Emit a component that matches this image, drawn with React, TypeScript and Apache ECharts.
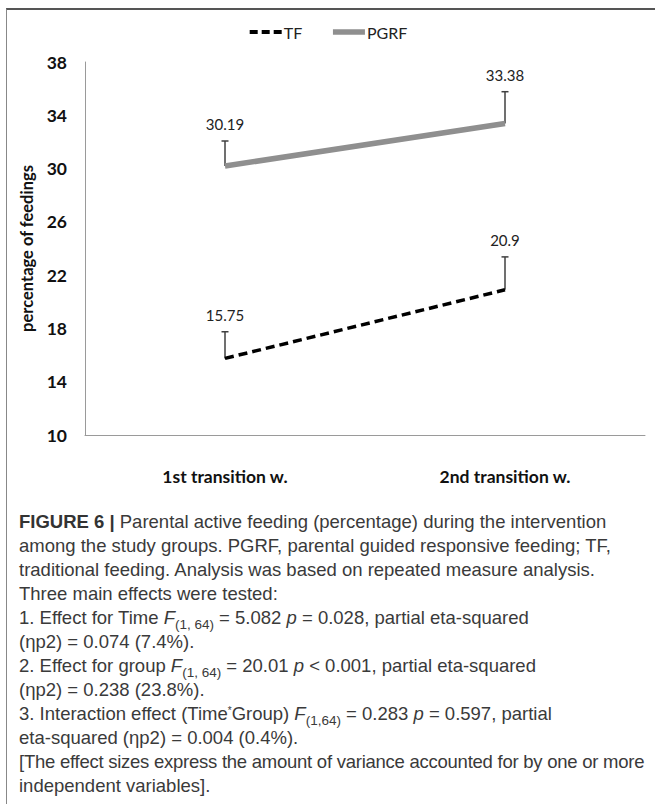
import React, { useEffect, useRef } from "react";
import * as echarts from "echarts";

const categories = ["1st transition w.", "2nd transition w."];
const tfValues = [15.75, 20.9];
const pgrfValues = [30.19, 33.38];
const tfErrors = [2.0, 2.47];
const pgrfErrors = [1.88, 2.39];
const yMin = 10;
const yMax = 38;
const yInterval = 4;

const CHART_FONT = "Lato, 'Open Sans', 'DejaVu Sans', sans-serif";
const CAPTION_FONT = "'Liberation Sans', Arial, Helvetica, sans-serif";

export default function App() {
  const ref = useRef<HTMLDivElement>(null);

  useEffect(() => {
    document.body.style.margin = "0";
    if (!ref.current) return;
    const chart = echarts.init(ref.current, undefined, { renderer: "svg" });

    const errData: any[] = [];
    tfValues.forEach((v, i) => errData.push([i, v, tfErrors[i], String(v)]));
    pgrfValues.forEach((v, i) => errData.push([i, v, pgrfErrors[i], String(v)]));

    chart.setOption({
      animation: false,
      backgroundColor: "transparent",
      textStyle: { fontFamily: CHART_FONT },
      legend: {
        top: 19,
        left: "center",
        itemWidth: 32,
        itemHeight: 10,
        itemGap: 28,
        itemStyle: { opacity: 0 },
        textStyle: { fontFamily: CHART_FONT, fontSize: 16, color: "#222", padding: [0, 0, 0, -3] },
        data: [
          { name: "TF", lineStyle: { width: 4, type: [8, 4], color: "#000" } },
          { name: "PGRF", lineStyle: { width: 5.5, color: "#8f8f8f" } },
        ],
      },
      grid: { left: 85, top: 62, width: 560, height: 373, containLabel: false },
      xAxis: {
        type: "category",
        data: categories,
        boundaryGap: true,
        axisLine: { lineStyle: { color: "#9a9a9a", width: 1 } },
        axisTick: { show: false },
        axisLabel: {
          margin: 32,
          fontSize: 17.5,
          fontWeight: "bold",
          color: "#111",
          fontFamily: CHART_FONT,
        },
        splitLine: { show: false },
      },
      yAxis: {
        type: "value",
        min: yMin,
        max: yMax,
        interval: yInterval,
        name: "percentage of feedings",
        nameLocation: "middle",
        nameGap: 45,
        nameRotate: 90,
        nameTextStyle: { fontSize: 16.5, fontWeight: "bold", color: "#111", fontFamily: CHART_FONT },
        axisLine: { show: true, lineStyle: { color: "#9a9a9a", width: 1 } },
        axisTick: { show: false },
        axisLabel: { margin: 18, fontSize: 17.5, fontWeight: "bold", color: "#111", fontFamily: CHART_FONT },
        splitLine: { show: false },
      },
      series: [
        {
          name: "TF",
          type: "line",
          data: tfValues,
          symbol: "none",
          lineStyle: { color: "#000", width: 3.5, type: [9, 5] },
          itemStyle: { color: "#000" },
          z: 3,
        },
        {
          name: "PGRF",
          type: "line",
          data: pgrfValues,
          symbol: "none",
          lineStyle: { color: "#8f8f8f", width: 5.5 },
          itemStyle: { color: "#8f8f8f" },
          z: 3,
        },
        {
          name: "errors",
          type: "custom",
          data: errData,
          z: 2,
          renderItem: (params: any, api: any) => {
            const x = api.value(0);
            const v = api.value(1);
            const e = api.value(2);
            const p = api.coord([x, v]);
            const t = api.coord([x, v + e]);
            const label = errData[params.dataIndex][3];
            return {
              type: "group",
              children: [
                {
                  type: "line",
                  shape: { x1: p[0], y1: p[1], x2: t[0], y2: t[1] },
                  style: { stroke: "#404040", lineWidth: 1.5 },
                },
                {
                  type: "line",
                  shape: { x1: t[0] - 3.5, y1: t[1], x2: t[0] + 3.5, y2: t[1] },
                  style: { stroke: "#404040", lineWidth: 1.5 },
                },
                {
                  type: "text",
                  style: {
                    text: label,
                    x: t[0],
                    y: t[1] - 9,
                    align: "center",
                    verticalAlign: "bottom",
                    fontSize: 15,
                    fontFamily: CHART_FONT,
                    fill: "#222",
                  },
                },
              ],
            };
          },
        },
      ],
    });

    return () => chart.dispose();
  }, []);

  const lineStyle: React.CSSProperties = { whiteSpace: "nowrap", height: 24 };
  const sub: React.CSSProperties = { fontSize: 13.5, verticalAlign: -5, lineHeight: 0 };

  return (
    <div style={{ position: "relative", width: 655, height: 804, background: "#fff", overflow: "hidden" }}>
      <div
        style={{
          position: "absolute",
          left: 6,
          top: 8,
          right: -4,
          bottom: -4,
          borderTop: "2px solid #555",
          borderLeft: "1.5px solid #888",
        }}
      />
      <div ref={ref} style={{ position: "absolute", left: 0, top: 0, width: 655, height: 505 }} />
      <div
        style={{
          position: "absolute",
          left: 19,
          top: 510,
          fontFamily: CAPTION_FONT,
          fontSize: 18.5,
          lineHeight: "24px",
          color: "#3a3a3a",
        }}
      >
        <div style={lineStyle}>
          <b style={{ color: "#333" }}>FIGURE 6 |</b> Parental active feeding (percentage) during the intervention
        </div>
        <div style={lineStyle}>among the study groups. PGRF, parental guided responsive feeding; TF,</div>
        <div style={lineStyle}>traditional feeding. Analysis was based on repeated measure analysis.</div>
        <div style={lineStyle}>Three main effects were tested:</div>
        <div style={lineStyle}>
          1. Effect for Time <i>F</i>
          <span style={sub}>(1, 64)</span> = 5.082 <i>p</i> = 0.028, partial eta-squared
        </div>
        <div style={lineStyle}>(ηp2) = 0.074 (7.4%).</div>
        <div style={lineStyle}>
          2. Effect for group <i>F</i>
          <span style={sub}>(1, 64)</span> = 20.01 <i>p</i> &lt; 0.001, partial eta-squared
        </div>
        <div style={lineStyle}>(ηp2) = 0.238 (23.8%).</div>
        <div style={lineStyle}>
          3. Interaction effect (Time<span style={{ fontSize: 10, verticalAlign: 6, lineHeight: 0 }}>*</span>Group){" "}
          <i>F</i>
          <span style={sub}>(1,64)</span> = 0.283 <i>p</i> = 0.597, partial
        </div>
        <div style={lineStyle}>eta-squared (ηp2) = 0.004 (0.4%).</div>
        <div style={{ ...lineStyle, letterSpacing: -0.25 }}>
          [The effect sizes express the amount of variance accounted for by one or more
        </div>
        <div style={lineStyle}>independent variables].</div>
      </div>
    </div>
  );
}
